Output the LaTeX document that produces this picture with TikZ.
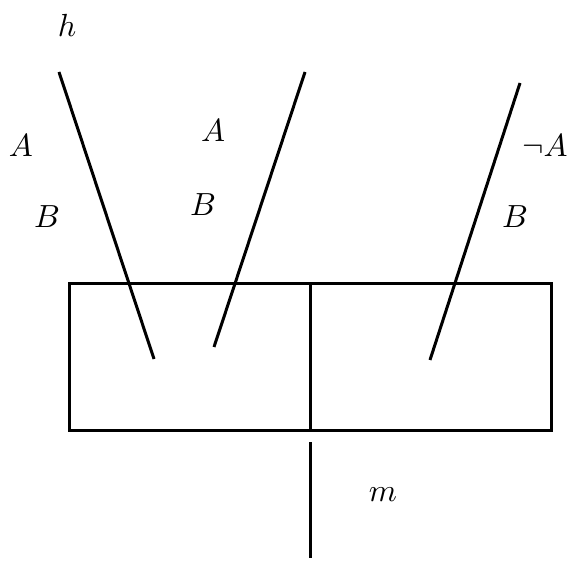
\documentclass[tikz,border=0pt]{standalone}
\begin{document}
\begin{tikzpicture}[x=1pt,y=-1pt,line width=3pt,
  lbl/.style={font=\normalsize, scale=3.2, inner sep=0pt}]
\useasboundingbox (0,0) rectangle (570,561);
% box
\coordinate (bl) at (69,284);
\coordinate (br) at (551,430);
\draw (bl) rectangle (br);
\coordinate (mt) at (310,284);
\coordinate (mb) at (310,430);
\draw (mt) -- (mb);
\coordinate (st) at (310,442);
\coordinate (sb) at (310,558);
\draw (st) -- (sb);
% slanted lines
\coordinate (l1a) at (59,72);
\coordinate (l1b) at (154,359);
\coordinate (l2a) at (305,72);
\coordinate (l2b) at (214,347);
\coordinate (l3a) at (520,83);
\coordinate (l3b) at (430,360);
\draw (l1a) -- (l1b);
\draw (l2a) -- (l2b);
\draw (l3a) -- (l3b);
% labels
\node[lbl] (h) at (67,25) {$h$};
\node[lbl] (A1) at (21,146) {$A$};
\node[lbl] (B1) at (47,217) {$B$};
\node[lbl] (A2) at (213,131) {$A$};
\node[lbl] (B2) at (203,205) {$B$};
\node[lbl] (nA) at (545,146) {$\neg A$};
\node[lbl] (B3) at (515,217) {$B$};
\node[lbl] (m) at (383,495) {$m$};
\end{tikzpicture}
\end{document}
